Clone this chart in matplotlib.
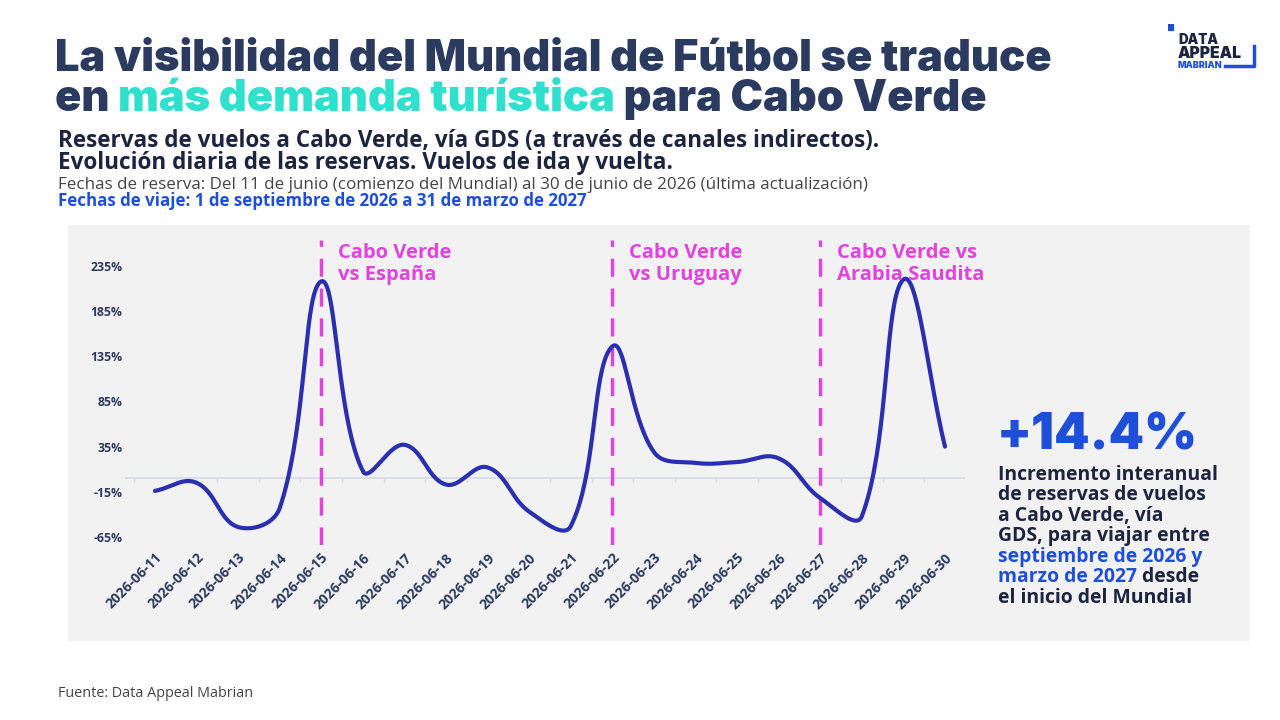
import numpy as np
import matplotlib
matplotlib.use("Agg")
import matplotlib.pyplot as plt
import matplotlib.font_manager as fm
from matplotlib.patches import Rectangle

# --- data ---
dates = ["2026-06-11", "2026-06-12", "2026-06-13", "2026-06-14", "2026-06-15",
         "2026-06-16", "2026-06-17", "2026-06-18", "2026-06-19", "2026-06-20",
         "2026-06-21", "2026-06-22", "2026-06-23", "2026-06-24", "2026-06-25",
         "2026-06-26", "2026-06-27", "2026-06-28", "2026-06-29", "2026-06-30"]
bookings = [-14, -5, -54, -33, 218, 8, 37, -7, 12, -37,
            -53, 146, 29, 17, 18, 22, -22, -42, 220, 35]
y_ticks = [-65, -15, 35, 85, 135, 185, 235]
match_dates = ["2026-06-15", "2026-06-22", "2026-06-27"]
match_labels = ["Cabo Verde\nvs España", "Cabo Verde\nvs Uruguay", "Cabo Verde vs\nArabia Saudita"]

NAVY = "#2b3a5f"
DARK = "#1c2440"
TURQ = "#2fe0cc"
BLUE = "#1f4fd8"
LINE = "#2a2fb0"
MAG = "#e044dc"
PANEL = "#f2f2f2"

plt.rcParams['font.family'] = ['Open Sans', 'DejaVu Sans']


def heaviest_font():
    # pick the heaviest static face among installed sans families
    best = None
    for fam in ["Inter", "Roboto", "Noto Sans", "Open Sans", "Lato"]:
        for f in fm.fontManager.ttflist:
            if f.name != fam or f.style != "normal":
                continue
            w = f.weight if isinstance(f.weight, int) else fm.weight_dict.get(f.weight, 400)
            if w >= 800 and (best is None or w > best[0]):
                best = (w, f.fname)
        if best:
            return best[1]
    return None


HEAVY = heaviest_font()


def props(size, weight="normal", heavy=False):
    if heavy and HEAVY:
        return fm.FontProperties(fname=HEAVY, size=size)
    return fm.FontProperties(family=['Open Sans', 'DejaVu Sans'], weight=weight, size=size)


fig = plt.figure(figsize=(12.8, 7.2), dpi=100)
fig.patch.set_facecolor("white")
fig.patches.append(Rectangle((68 / 1280, 1 - 641 / 720), (1250 - 68) / 1280, (641 - 225) / 720,
                             transform=fig.transFigure, facecolor=PANEL, edgecolor="none", zorder=-5))
R = fig.canvas.get_renderer()


def fit_size(s, width_px, size, weight="normal", heavy=False):
    tmp = fig.text(0, 0, s, fontproperties=props(size, weight, heavy))
    w = tmp.get_window_extent(R).width
    tmp.remove()
    return size * width_px / w


def rich_line(x_px, y_px, parts, width_px=None, size=12, weight="normal", heavy=False):
    # place coloured pieces one after another; optionally scale to a target width
    if width_px:
        size = fit_size("".join(s for s, _ in parts), width_px, size, weight, heavy)
    x = x_px / 1280
    for s, c in parts:
        t = fig.text(x, 1 - y_px / 720, s, color=c, va="baseline",
                     fontproperties=props(size, weight, heavy))
        x += t.get_window_extent(R).width / 1280
    return size


def block(x_px, y_px, lines, step_px, color, width_px, size, weight="normal"):
    # several lines in one text object, line step set in pixels
    size = fit_size(lines[0], width_px, size, weight)
    one = fig.text(0, 0, "A", fontproperties=props(size, weight))
    two = fig.text(0, 0, "A\nA", fontproperties=props(size, weight), linespacing=1.0)
    d = two.get_window_extent(R).height - one.get_window_extent(R).height
    one.remove()
    two.remove()
    fig.text(x_px / 1280, 1 - y_px / 720, "\n".join(lines), color=color, va="baseline", ha="left",
             fontproperties=props(size, weight), linespacing=step_px / d)


# title
tsize = fit_size("La visibilidad del Mundial de Fútbol se traduce", 1000, 30, heavy=True)
rich_line(55, 71, [("La visibilidad del Mundial de Fútbol se traduce", NAVY)], size=tsize, heavy=True)
rich_line(55, 111, [("en ", NAVY), ("más demanda turística", TURQ), (" para Cabo Verde", NAVY)],
          size=tsize, heavy=True)

block(58, 169, ["Reservas de vuelos a Cabo Verde, vía GDS (a través de canales indirectos).",
                "Evolución diaria de las reservas. Vuelos de ida y vuelta."],
      21, DARK, 827, 14, "bold")
rich_line(58, 189, [("Fechas de reserva: Del 11 de junio (comienzo del Mundial) al 30 de junio de 2026 "
                     "(última actualización)", "#444444")], width_px=813, size=11)
rich_line(58, 206, [("Fechas de viaje: 1 de septiembre de 2026 a 31 de marzo de 2027", BLUE)],
          width_px=529, size=11, weight="bold")
rich_line(58, 697, [("Fuente: Data Appeal Mabrian", "#444444")], width_px=196, size=10)

# logo
fig.patches.append(Rectangle((1168 / 1280, 1 - 31 / 720), 6 / 1280, 7 / 720, transform=fig.transFigure,
                             facecolor=BLUE, edgecolor="none"))
rich_line(1178, 44, [("DATA", DARK)], width_px=40, size=11, heavy=True)
rich_line(1178, 58, [("APPEAL", DARK)], width_px=64, size=11, heavy=True)
rich_line(1178, 68, [("MABRIAN", BLUE)], width_px=45, size=7, heavy=True)
fig.lines.append(plt.Line2D([1225 / 1280, 1254 / 1280, 1254 / 1280], [1 - 66 / 720, 1 - 66 / 720, 1 - 46 / 720],
                            transform=fig.transFigure, color=BLUE, lw=2.5))

# chart
ax = fig.add_axes([125 / 1280, 1 - 545 / 720, (965 - 125) / 1280, (545 - 240) / 720])
ax.set_facecolor("none")
ax.set_xlim(-0.72, 19.48)
ax.set_ylim(-73.9, 263.8)
x = np.arange(len(dates), dtype=float)
y = np.array(bookings, dtype=float)

# Bezier spline with tension 0.4, control points weighted by on-screen distances
T = 0.4
pts = ax.transData.transform(np.column_stack([x, y]))
n = len(pts)
cprev = np.zeros_like(pts)
cnext = np.zeros_like(pts)
for i in range(n):
    p0 = pts[max(i - 1, 0)]
    p1 = pts[i]
    p2 = pts[min(i + 1, n - 1)]
    d01 = np.hypot(*(p1 - p0))
    d12 = np.hypot(*(p2 - p1))
    fa = T * d01 / (d01 + d12)
    fb = T * d12 / (d01 + d12)
    cprev[i] = p1 - fa * (p2 - p0)
    cnext[i] = p1 + fb * (p2 - p0)
tt = np.linspace(0, 1, 40)[:, None]
segs = []
for i in range(n - 1):
    segs.append((1 - tt) ** 3 * pts[i] + 3 * (1 - tt) ** 2 * tt * cnext[i]
                + 3 * (1 - tt) * tt ** 2 * cprev[i + 1] + tt ** 3 * pts[i + 1])
curve = ax.transData.inverted().transform(np.vstack(segs))
ax.plot(curve[:, 0], curve[:, 1], color=LINE, lw=3, solid_capstyle="round",
        solid_joinstyle="round", zorder=3)

ax.axhline(0, color="#d5dae8", lw=1.2, zorder=1)
ax.vlines(np.arange(-0.5, len(dates) - 0.4, 1), -4, 0, color="#d5dae8", lw=1, zorder=1)

for d, lab in zip(match_dates, match_labels):
    i = dates.index(d)
    ax.axvline(i, color=MAG, lw=2.5, ls=(0, (5.2, 3.4)), zorder=2)
    ax.text(i + 0.4, 260, lab, color=MAG, va="top", ha="left", linespacing=1.1,
            fontproperties=props(14.5, "bold"))

ax.set_yticks(y_ticks)
ax.set_yticklabels([f"{v}%" for v in y_ticks], fontproperties=props(8.8, "bold"), color=NAVY)
ax.set_xticks(x)
ax.set_xticklabels(dates, rotation=45, ha="right", va="top", rotation_mode="anchor",
                   fontproperties=props(10, "bold"), color=NAVY)
ax.tick_params(length=0, pad=2)
ax.tick_params(axis="x", pad=4)
for s in ax.spines.values():
    s.set_visible(False)

# right panel
rich_line(997, 450, [("+14.4%", BLUE)], width_px=201, size=40, heavy=True)
right_lines = [[("Incremento interanual", DARK)],
               [("de reservas de vuelos", DARK)],
               [("a Cabo Verde, vía", DARK)],
               [("GDS, para viajar entre", DARK)],
               [("septiembre de 2026 y", BLUE)],
               [("marzo de 2027", BLUE), (" desde", DARK)],
               [("el inicio del Mundial", DARK)]]
rsize = None
for k, parts in enumerate(right_lines):
    if rsize is None:
        rsize = rich_line(998, 480 + 20.5 * k, parts, width_px=220, size=14, weight="bold")
    else:
        rich_line(998, 480 + 20.5 * k, parts, size=rsize, weight="bold")

fig.savefig("out.png", dpi=100)
